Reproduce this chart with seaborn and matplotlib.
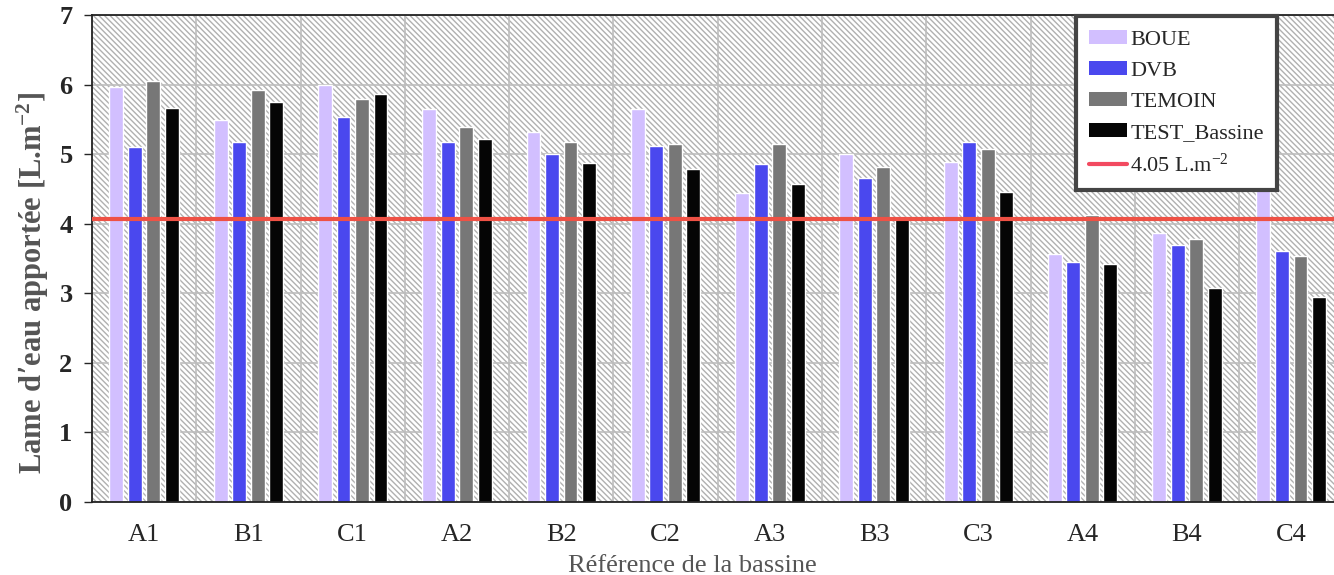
import matplotlib
matplotlib.use("Agg")

import matplotlib.pyplot as plt
import numpy as np
import pandas as pd
import seaborn as sns
from matplotlib.lines import Line2D
from matplotlib.patches import Patch, Rectangle

# ── Data ─────────────────────────────────────────────────────────────────────
bassines = ["A1", "B1", "C1", "A2", "B2", "C2", "A3", "B3", "C3", "A4", "B4", "C4"]
boue = [5.96, 5.49, 5.99, 5.65, 5.32, 5.65, 4.44, 5.00, 4.89, 3.57, 3.87, 4.70]
dvb = [5.10, 5.17, 5.53, 5.18, 5.00, 5.11, 4.86, 4.66, 5.18, 3.45, 3.70, 3.61]
temoin = [6.05, 5.92, 5.79, 5.39, 5.17, 5.14, 5.14, 4.82, 5.08, 4.13, 3.78, 3.53]
test_bassine = [5.66, 5.75, 5.87, 5.21, 4.87, 4.79, 4.57, 4.09, 4.45, 3.42, 3.07, 2.95]
seuil = 4.07
seuil_label = r"4.05 L.m$^{-2}$"

series = ["BOUE", "DVB", "TEMOIN", "TEST_Bassine"]
colors = {"BOUE": "#d2bfff", "DVB": "#4a48ee", "TEMOIN": "#777777", "TEST_Bassine": "#050505"}

df = pd.DataFrame({
    "bassine": bassines * 4,
    "serie": np.repeat(series, len(bassines)),
    "valeur": boue + dvb + temoin + test_bassine,
})

# ── Style ────────────────────────────────────────────────────────────────────
sns.set_theme(style="white")
plt.rcParams["font.family"] = ["Liberation Serif", "DejaVu Serif"]
plt.rcParams["mathtext.default"] = "regular"
plt.rcParams["hatch.linewidth"] = 1.0

fig = plt.figure(figsize=(13.34, 5.75), dpi=100)
ax = fig.add_axes([0.069, 0.127, 0.938, 0.847])

# hatched background
ax.set_facecolor("white")
ax.add_patch(Rectangle((0, 0), 1, 1, transform=ax.transAxes, facecolor="white",
                       edgecolor="#b0b0b0", hatch="\\\\\\\\\\\\", lw=0, zorder=0))

sns.barplot(data=df, x="bassine", y="valeur", hue="serie", palette=colors,
            width=0.71, gap=0.25, saturation=1, legend=False, ax=ax, zorder=2)

ax.axhline(seuil, color="#ee5145", lw=3, zorder=3)

# grid: horizontal at integers, vertical between groups
ax.set_ylim(0, 7)
ax.set_xlim(-0.5, len(bassines) - 0.5)
ax.set_yticks(range(0, 8))
ax.set_xticks(np.arange(len(bassines) + 1) - 0.5, minor=True)
ax.grid(axis="y", which="major", color="#bdbdbd", lw=1.2)
ax.grid(axis="x", which="minor", color="#bdbdbd", lw=1.2)
ax.set_axisbelow(True)
for gl in ax.get_xgridlines() + ax.get_ygridlines():
    gl.set_zorder(1)

ax.tick_params(axis="x", which="both", length=0, pad=16, labelsize=19)
ax.tick_params(axis="y", length=6, width=1, direction="out", left=True, labelsize=19, pad=8)
for lbl in ax.get_yticklabels():
    lbl.set_fontweight("bold")

for side in ["left", "top", "bottom", "right"]:
    ax.spines[side].set_color("#222222")
    ax.spines[side].set_linewidth(1.3)

ax.set_xlabel("Référence de la bassine", fontsize=19, color="#555555", labelpad=6)
ax.set_ylabel("Lame d’eau apportée [L.m$^{-2}$]", fontsize=22, color="#555555",
              fontweight="bold", labelpad=6)
ax.xaxis.label.set_x(0.48)
ax.yaxis.label.set_y(0.45)

# legend
handles = [Patch(facecolor=colors[s], edgecolor="none") for s in series]
handles.append(Line2D([0], [0], color="#f24a60", lw=3))
leg = ax.legend(handles, series + [seuil_label], loc="upper right",
                bbox_to_anchor=(0.947, 0.997), fontsize=16, frameon=True,
                fancybox=False, framealpha=1, edgecolor="#444444",
                handlelength=1.7, handleheight=0.6, handletextpad=0.15,
                labelspacing=0.5, borderpad=0.6, borderaxespad=0)
leg.get_frame().set_linewidth(3)
leg.set_zorder(5)

fig.savefig("out.png", dpi=100)
plt.close(fig)
